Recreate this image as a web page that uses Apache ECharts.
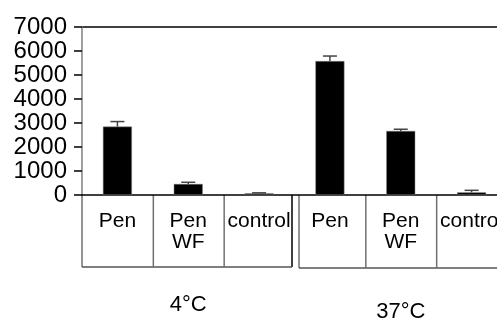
<!DOCTYPE html>
<html><head><meta charset="utf-8">
<script src="https://cdn.jsdelivr.net/npm/echarts@6/dist/echarts.min.js"></script>
<style>html,body{margin:0;padding:0;background:#fff}#c{width:497px;height:321px}</style>
</head><body><div id="c"></div>
<script>
const categories = ['Pen', 'Pen\nWF', 'control', 'Pen', 'Pen\nWF', 'control'];
const values = [2850, 460, 70, 5580, 2670, 110];
const errors = [210, 70, 20, 210, 70, 85];
const groupLabels = ['4°C', '37°C'];
const groupAnchors = [1, 4];
const yMin = 0, yMax = 7000, yStep = 1000;

const FONT = '"Liberation Sans", Arial, sans-serif';
const chart = echarts.init(document.getElementById('c'), null, {renderer: 'canvas'});

chart.setOption({
  animation: false,
  backgroundColor: '#fff',
  grid: {left: 82, top: 27, width: 425, height: 168, containLabel: false, outerBoundsMode: 'none'},
  xAxis: {
    type: 'category', data: categories,
    axisLine: {lineStyle: {color: '#000', width: 1.5}},
    axisTick: {show: false},
    axisLabel: {interval: 0, color: '#000', fontFamily: FONT, fontSize: 21, lineHeight: 21, margin: 16, hideOverlap: false},
    splitLine: {show: false}
  },
  yAxis: {
    type: 'value', min: yMin, max: yMax, interval: yStep,
    axisLine: {show: true, lineStyle: {color: '#808080', width: 1.5}},
    axisTick: {show: true, inside: false, length: 8, lineStyle: {color: '#000', width: 1.5}},
    axisLabel: {color: '#000', fontFamily: FONT, fontSize: 24, margin: 15, padding: [0, 0, 8, 0], formatter: v => String(v)},
    splitLine: {show: false}
  },
  series: [
    {type: 'bar', data: values, barWidth: 29, itemStyle: {color: '#000', borderColor: '#888', borderWidth: 0.5}},
    {type: 'custom', data: values.map((v, i) => [i, v, v + errors[i]]), z: 5,
      renderItem: function (params, api) {
        const p0 = api.coord([api.value(0), api.value(1)]);
        const p1 = api.coord([api.value(0), api.value(2)]);
        const w = 7;
        return {type: 'group', children: [
          {type: 'line', shape: {x1: p0[0], y1: p0[1], x2: p1[0], y2: p1[1]}, style: {stroke: '#444', lineWidth: 1.5}},
          {type: 'line', shape: {x1: p1[0] - w, y1: p1[1], x2: p1[0] + w, y2: p1[1]}, style: {stroke: '#444', lineWidth: 1.5}}
        ]};
      }
    }
  ]
});

const cx0 = chart.convertToPixel({xAxisIndex: 0}, 0);
const cx1 = chart.convertToPixel({xAxisIndex: 0}, 1);
const band = cx1 - cx0;
const bnd = i => cx0 - band / 2 + i * band;
const yZero = chart.convertToPixel({yAxisIndex: 0}, yMin);
const yTop = chart.convertToPixel({yAxisIndex: 0}, yMax);
const boxBottom = yZero + 72;
const W = 497;
const g = [];
const grey = '#707070';
g.push({type: 'line', shape: {x1: bnd(0), y1: yTop, x2: W, y2: yTop}, style: {stroke: '#000', lineWidth: 1.5}});
const lL = bnd(0), lR = bnd(3) - 2.5, rL = bnd(3) + 4.5, rR = bnd(6) + 2;
g.push({type: 'line', shape: {x1: lL, y1: yZero, x2: lL, y2: boxBottom}, style: {stroke: grey, lineWidth: 1.5}});
g.push({type: 'line', shape: {x1: lR, y1: yZero, x2: lR, y2: boxBottom}, style: {stroke: '#000', lineWidth: 1.5}});
g.push({type: 'line', shape: {x1: lL, y1: boxBottom, x2: lR, y2: boxBottom}, style: {stroke: '#555', lineWidth: 1.5}});
g.push({type: 'line', shape: {x1: rL, y1: yZero, x2: rL, y2: boxBottom + 1}, style: {stroke: grey, lineWidth: 1.5}});
g.push({type: 'line', shape: {x1: rL, y1: boxBottom + 1, x2: rR, y2: boxBottom + 1}, style: {stroke: '#555', lineWidth: 1.5}});
[1, 2, 4, 5].forEach(i => {
  g.push({type: 'line', shape: {x1: bnd(i) + 0.5, y1: yZero, x2: bnd(i) + 0.5, y2: boxBottom + (i > 3 ? 1 : 0)}, style: {stroke: grey, lineWidth: 1.5}});
});
const gy = [305, 312];
groupLabels.forEach((t, k) => {
  const x = chart.convertToPixel({xAxisIndex: 0}, groupAnchors[k]);
  g.push({type: 'text', x: x, y: gy[k], style: {text: t, fill: '#000', font: '22px ' + FONT, textAlign: 'center', textVerticalAlign: 'middle'}});
});
chart.setOption({graphic: g});
</script></body></html>
